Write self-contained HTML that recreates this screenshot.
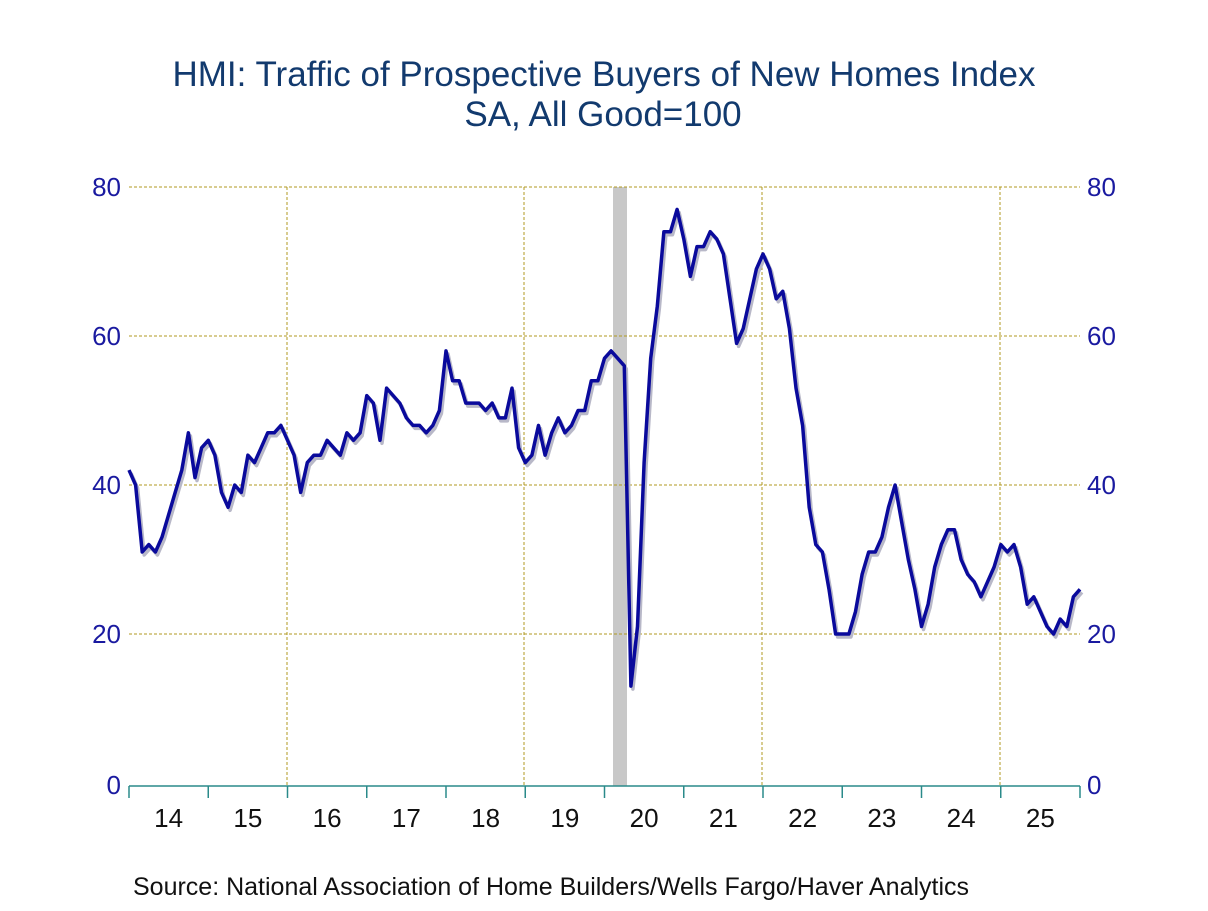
<!DOCTYPE html>
<html><head><meta charset="utf-8"><style>
body{margin:0;background:#fff;width:1208px;height:906px;overflow:hidden}
svg text{font-family:"Liberation Sans",Arial,sans-serif}
</style></head><body>
<svg id="s" width="1208" height="906" viewBox="0 0 1208 906">
<text x="604" y="86" text-anchor="middle" font-size="35" fill="#123a6e">HMI: Traffic of Prospective Buyers of New Homes Index</text>
<text x="603" y="126" text-anchor="middle" font-size="35" fill="#123a6e">SA, All Good=100</text>
<rect x="613" y="187" width="14" height="599" fill="#c8c8c8"/>
<g stroke="#b09a20" stroke-width="1" stroke-dasharray="3,2">
<line x1="129" y1="187" x2="1080" y2="187"/><line x1="129" y1="336" x2="1080" y2="336"/>
<line x1="129" y1="485" x2="1080" y2="485"/><line x1="129" y1="634" x2="1080" y2="634"/>
<line x1="287" y1="187" x2="287" y2="786"/><line x1="524" y1="187" x2="524" y2="786"/>
<line x1="762" y1="187" x2="762" y2="786"/><line x1="1000" y1="187" x2="1000" y2="786"/>
</g>
<g fill="#1a1aa0" font-size="26">
<text x="121" y="196" text-anchor="end">80</text><text x="121" y="345" text-anchor="end">60</text>
<text x="121" y="494" text-anchor="end">40</text><text x="121" y="643" text-anchor="end">20</text>
<text x="121" y="794" text-anchor="end">0</text>
<text x="1087" y="196">80</text><text x="1087" y="345">60</text><text x="1087" y="494">40</text>
<text x="1087" y="643">20</text><text x="1087" y="794">0</text>
</g>
<line x1="129" y1="786" x2="1080" y2="786" stroke="#2a8a8a" stroke-width="1.5"/>
<g id="ticks" stroke="#2a8a8a" stroke-width="1.5"></g>
<g id="yl" font-size="26" fill="#111" text-anchor="middle"></g>
<polyline id="sh" fill="none" stroke="#b8b8c8" stroke-width="3.5" stroke-linejoin="round" transform="translate(2,3)"/>
<polyline id="ln" fill="none" stroke="#0a0a9c" stroke-width="3.5" stroke-linejoin="round"/>
<text x="133" y="895" font-size="25" fill="#111">Source:  National Association of Home Builders/Wells Fargo/Haver Analytics</text>
</svg>
<script>
var d=[42,40,31,32,31,33,36,39,42,47,41,45,46,44,39,37,40,39,44,43,45,47,47,48,46,44,39,43,44,44,46,45,44,47,46,47,52,51,46,53,52,51,49,48,48,47,48,50,58,54,54,51,51,51,50,51,49,49,53,45,43,44,48,44,47,49,47,48,50,50,54,54,57,58,57,56,13,21,43,57,64,74,74,77,73,68,72,72,74,73,71,65,59,61,65,69,71,69,65,66,61,53,48,37,32,31,26,20,20,20,23,28,31,31,33,37,40,35,30,26,21,24,29,32,34,34,30,28,27,25,27,29,32,31,32,29,24,25,23,21,20,22,21,25,26];
var x0=129,w=(1080-129)/144,p=[];
for(var i=0;i<d.length;i++)p.push((x0+w*i).toFixed(1)+","+(783-7.45*d[i]).toFixed(1));
document.getElementById('ln').setAttribute('points',p.join(' '));
document.getElementById('sh').setAttribute('points',p.join(' '));
var t='',l='';
for(var y=0;y<=12;y++){var x=x0+w*12*y;t+='<line x1="'+x+'" y1="786" x2="'+x+'" y2="798"/>';
if(y<12)l+='<text x="'+(x+w*6)+'" y="827">'+(14+y)+'</text>';}
document.getElementById('ticks').innerHTML=t;document.getElementById('yl').innerHTML=l;
</script>
</body></html>
